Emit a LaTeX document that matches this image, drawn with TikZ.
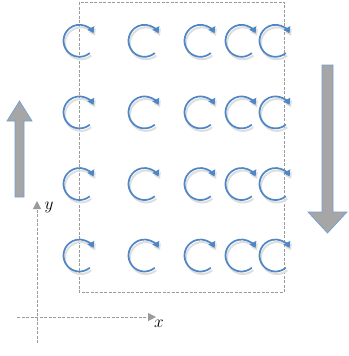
\documentclass[tikz,border=0pt]{standalone}
\usetikzlibrary{arrows.meta}
\definecolor{cblue}{HTML}{4F86C6}
\definecolor{agray}{HTML}{A6A6A6}
\definecolor{dgray}{HTML}{9A9A9A}
\tikzset{
  carrow/.style={cblue, line width=1.7pt, -{Triangle[length=6pt,width=7.5pt]}},
  cshadow/.style={black!13, line width=2pt, -{Triangle[length=6pt,width=7.5pt]}},
  blockarrow/.style={fill=agray, draw=cblue!80, line width=0.7pt, line join=miter},
  dashbox/.style={dgray, line width=0.9pt, dash pattern=on 3pt off 1.5pt},
  axis/.style={dgray, line width=1pt, dash pattern=on 3pt off 1.5pt, -{Triangle[length=8pt,width=8pt]}},
  axlabel/.style={font=\fontsize{19}{19}\selectfont, inner sep=0pt}
}
\begin{document}
\begin{tikzpicture}[x=1pt,y=-1pt]
\useasboundingbox (0,0) rectangle (348,356);
% dashed frame
\draw[dashbox] (79,2) rectangle (284,292);
% circular arrows
\foreach \cy in {40.8,112.4,184,255.5}{
  \foreach \cx in {79.5,144.5,200.5,241.5,275.5}{
    \draw[cshadow] (\cx+1.5,\cy+2.5) ++(50:16) arc[start angle=50, end angle=332, radius=16];
    \draw[carrow] (\cx,\cy) ++(50:16) arc[start angle=50, end angle=332, radius=16];
  }
}
% up block arrow
\draw[blockarrow] (15,197) -- (15,121) -- (7,121) -- (19.5,101) -- (32,121) -- (24,121) -- (24,197) -- cycle;
% down block arrow
\draw[blockarrow] (322,65) -- (333,65) -- (333,212) -- (347,212) -- (327.5,233) -- (308,212) -- (322,212) -- cycle;
% axes
\coordinate (ystart) at (37,343);
\coordinate (yend) at (37,201);
\coordinate (xstart) at (17,317);
\coordinate (xend) at (156,317);
\draw[axis] (ystart) -- (yend);
\draw[axis] (xstart) -- (xend);
\node[axlabel] (ylab) at (49,207) {$y$};
\node[axlabel] (xlab) at (159,324) {$x$};
\end{tikzpicture}
\end{document}
